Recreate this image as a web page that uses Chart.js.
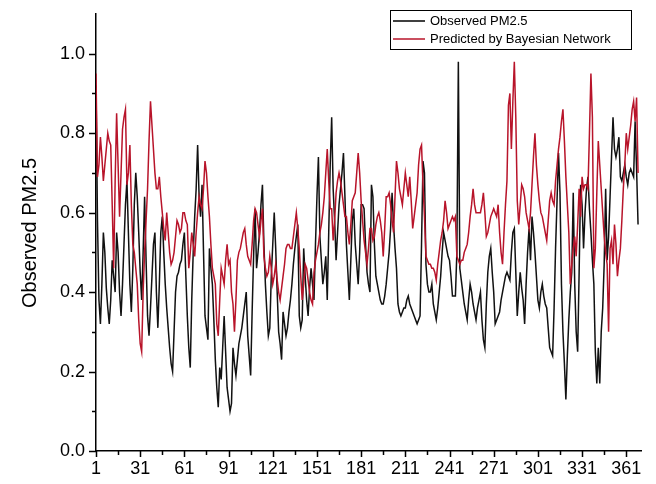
<!DOCTYPE html>
<html>
<head>
<meta charset="utf-8">
<script src="https://cdn.jsdelivr.net/npm/chart.js@4.4.1/dist/chart.umd.min.js"></script>
<style>
  html, body { margin: 0; padding: 0; background: #fff; }
  canvas { display: block; }
</style>
</head>
<body>
<canvas id="c" width="656" height="484"></canvas>
<script>
// Daily normalised PM2.5: observed values and Bayesian-network predictions
const observed = [
  0.92,0.58,0.38,0.32,0.42,0.55,0.50,0.41,0.36,0.32,
  0.38,0.48,0.44,0.40,0.55,0.50,0.40,0.34,0.42,0.52,
  0.62,0.68,0.55,0.42,0.35,0.46,0.62,0.70,0.64,0.55,
  0.45,0.38,0.50,0.64,0.48,0.34,0.29,0.36,0.44,0.52,
  0.55,0.40,0.31,0.42,0.55,0.59,0.50,0.42,0.36,0.31,
  0.26,0.22,0.20,0.30,0.40,0.44,0.45,0.47,0.48,0.52,
  0.55,0.44,0.34,0.26,0.21,0.38,0.50,0.59,0.66,0.77,
  0.64,0.59,0.67,0.50,0.34,0.31,0.28,0.51,0.46,0.42,
  0.33,0.23,0.16,0.11,0.21,0.18,0.26,0.34,0.25,0.16,
  0.13,0.10,0.12,0.26,0.22,0.19,0.23,0.27,0.29,0.31,
  0.34,0.37,0.40,0.29,0.24,0.19,0.35,0.49,0.61,0.46,
  0.50,0.55,0.62,0.67,0.52,0.42,0.35,0.29,0.31,0.44,
  0.52,0.60,0.51,0.40,0.30,0.27,0.23,0.35,0.32,0.29,
  0.31,0.35,0.38,0.42,0.47,0.51,0.54,0.57,0.34,0.31,
  0.33,0.51,0.44,0.38,0.34,0.41,0.46,0.42,0.38,0.52,
  0.64,0.74,0.54,0.48,0.42,0.45,0.49,0.38,0.55,0.72,
  0.84,0.66,0.58,0.48,0.55,0.62,0.66,0.70,0.75,0.64,
  0.52,0.45,0.38,0.48,0.58,0.61,0.52,0.47,0.42,0.50,
  0.62,0.62,0.61,0.52,0.45,0.42,0.40,0.67,0.64,0.52,
  0.44,0.42,0.40,0.38,0.37,0.37,0.39,0.42,0.46,0.50,
  0.56,0.65,0.57,0.51,0.46,0.37,0.35,0.34,0.35,0.36,
  0.36,0.38,0.39,0.37,0.36,0.35,0.34,0.33,0.32,0.33,
  0.34,0.52,0.73,0.70,0.47,0.42,0.40,0.40,0.42,0.37,
  0.35,0.33,0.36,0.40,0.44,0.50,0.55,0.53,0.51,0.49,
  0.48,0.44,0.39,0.39,0.39,0.50,0.98,0.46,0.43,0.40,
  0.37,0.35,0.33,0.38,0.42,0.40,0.37,0.35,0.33,0.36,
  0.38,0.40,0.33,0.28,0.26,0.37,0.45,0.49,0.51,0.45,
  0.40,0.32,0.33,0.34,0.35,0.38,0.40,0.42,0.44,0.45,
  0.44,0.43,0.50,0.55,0.56,0.45,0.34,0.40,0.45,0.41,
  0.38,0.32,0.42,0.50,0.56,0.48,0.59,0.55,0.50,0.44,
  0.38,0.36,0.40,0.42,0.39,0.37,0.36,0.31,0.26,0.25,
  0.24,0.36,0.51,0.63,0.75,0.65,0.42,0.30,0.22,0.13,
  0.24,0.33,0.40,0.45,0.65,0.42,0.30,0.25,0.45,0.67,
  0.62,0.51,0.60,0.66,0.69,0.61,0.55,0.48,0.42,0.25,
  0.17,0.26,0.17,0.30,0.36,0.47,0.66,0.48,0.54,0.64,
  0.74,0.84,0.76,0.74,0.76,0.79,0.69,0.68,0.70,0.72,
  0.69,0.67,0.70,0.71,0.70,0.69,0.83,0.71,0.57
];

const predicted = [
  0.95,0.69,0.72,0.79,0.74,0.68,0.72,0.76,0.80,0.78,
  0.77,0.62,0.46,0.68,0.85,0.72,0.59,0.70,0.81,0.84,
  0.86,0.67,0.70,0.77,0.62,0.52,0.50,0.46,0.42,0.33,
  0.27,0.25,0.40,0.50,0.58,0.66,0.78,0.88,0.82,0.76,
  0.70,0.66,0.66,0.69,0.64,0.60,0.56,0.53,0.60,0.55,
  0.50,0.47,0.48,0.50,0.54,0.58,0.57,0.55,0.56,0.60,
  0.60,0.58,0.57,0.46,0.50,0.55,0.52,0.49,0.55,0.60,
  0.64,0.62,0.61,0.66,0.73,0.70,0.64,0.59,0.52,0.46,
  0.44,0.42,0.32,0.29,0.38,0.46,0.44,0.42,0.48,0.52,
  0.47,0.48,0.40,0.37,0.30,0.38,0.48,0.50,0.51,0.53,
  0.55,0.56,0.52,0.49,0.48,0.47,0.52,0.58,0.61,0.60,
  0.57,0.54,0.58,0.61,0.49,0.46,0.44,0.45,0.49,0.46,
  0.42,0.44,0.47,0.43,0.40,0.38,0.41,0.44,0.47,0.51,
  0.52,0.52,0.51,0.51,0.54,0.57,0.60,0.56,0.51,0.44,
  0.38,0.42,0.47,0.46,0.43,0.40,0.38,0.37,0.45,0.48,
  0.50,0.52,0.55,0.57,0.60,0.64,0.70,0.76,0.68,0.61,
  0.61,0.53,0.58,0.65,0.68,0.70,0.68,0.65,0.62,0.59,
  0.59,0.55,0.52,0.57,0.63,0.64,0.65,0.70,0.75,0.70,
  0.63,0.58,0.53,0.50,0.47,0.51,0.56,0.56,0.53,0.54,
  0.57,0.59,0.60,0.58,0.55,0.49,0.56,0.64,0.64,0.65,
  0.62,0.58,0.55,0.64,0.73,0.70,0.66,0.64,0.62,0.66,
  0.70,0.67,0.64,0.69,0.63,0.56,0.59,0.62,0.65,0.72,
  0.76,0.77,0.67,0.59,0.49,0.48,0.47,0.47,0.46,0.46,
  0.45,0.43,0.47,0.50,0.53,0.55,0.58,0.63,0.60,0.56,
  0.57,0.58,0.59,0.58,0.59,0.49,0.48,0.47,0.48,0.48,
  0.50,0.51,0.52,0.55,0.59,0.62,0.66,0.62,0.60,0.60,
  0.60,0.60,0.62,0.65,0.60,0.54,0.55,0.57,0.59,0.60,
  0.61,0.60,0.59,0.62,0.55,0.50,0.47,0.55,0.62,0.68,
  0.87,0.90,0.76,0.88,0.98,0.84,0.63,0.57,0.62,0.67,
  0.66,0.64,0.60,0.58,0.56,0.60,0.67,0.74,0.80,0.72,
  0.67,0.63,0.60,0.59,0.57,0.55,0.53,0.58,0.63,0.65,
  0.63,0.62,0.68,0.72,0.76,0.79,0.83,0.86,0.78,0.69,
  0.62,0.55,0.42,0.47,0.51,0.54,0.49,0.57,0.66,0.59,
  0.69,0.66,0.67,0.67,0.66,0.80,0.95,0.84,0.46,0.51,
  0.65,0.78,0.72,0.66,0.60,0.54,0.50,0.47,0.30,0.51,
  0.53,0.47,0.57,0.52,0.44,0.48,0.51,0.58,0.66,0.72,
  0.80,0.76,0.79,0.82,0.86,0.88,0.83,0.89,0.70
];

const xTickLabels = [1, 31, 61, 91, 121, 151, 181, 211, 241, 271, 301, 331, 361];
const xMinorTicks = [16, 46, 76, 106, 136, 166, 196, 226, 256, 286, 316, 346];
const yTickLabels = [0.0, 0.2, 0.4, 0.6, 0.8, 1.0];
const yMinorTicks = [0.1, 0.3, 0.5, 0.7, 0.9];
const seriesNames = ['Observed PM2.5', 'Predicted by Bayesian Network'];
const yTitle = 'Observed PM2.5';

const FONT = '"Liberation Sans", Arial, sans-serif';
const RED = '#b8142a';

const toPoints = arr => arr.map((v, i) => ({ x: i + 1, y: v }));

// Tick marks, axis title and framed legend drawn on top of the scales
const decorations = {
  id: 'decorations',
  afterDraw(chart) {
    const ctx = chart.ctx;
    const xs = chart.scales.x, ys = chart.scales.y;
    const area = chart.chartArea;
    ctx.save();
    ctx.strokeStyle = '#000';
    ctx.lineWidth = 1.5;
    ctx.beginPath();
    xTickLabels.forEach(v => {
      const px = Math.round(xs.getPixelForValue(v)) + 0.5;
      ctx.moveTo(px, area.bottom); ctx.lineTo(px, area.bottom + 6);
    });
    xMinorTicks.forEach(v => {
      const px = Math.round(xs.getPixelForValue(v)) + 0.5;
      ctx.moveTo(px, area.bottom); ctx.lineTo(px, area.bottom + 4);
    });
    yTickLabels.forEach(v => {
      const py = Math.round(ys.getPixelForValue(v)) + 0.5;
      ctx.moveTo(area.left, py); ctx.lineTo(area.left - 7, py);
    });
    yMinorTicks.forEach(v => {
      const py = Math.round(ys.getPixelForValue(v)) + 0.5;
      ctx.moveTo(area.left, py); ctx.lineTo(area.left - 4, py);
    });
    ctx.stroke();

    // rotated y-axis title
    ctx.fillStyle = '#000';
    ctx.font = '20px ' + FONT;
    ctx.textAlign = 'center';
    ctx.textBaseline = 'middle';
    ctx.translate(30, 233);
    ctx.rotate(-Math.PI / 2);
    ctx.fillText(yTitle, 0, 0);
    ctx.setTransform(1, 0, 0, 1, 0, 0);

    // legend box
    const bx = 390.5, by = 10.5, bw = 241, bh = 39;
    ctx.fillStyle = '#fff';
    ctx.fillRect(bx, by, bw, bh);
    ctx.lineWidth = 1;
    ctx.strokeStyle = '#000';
    ctx.strokeRect(bx, by, bw, bh);
    const colors = ['#000', RED];
    const rows = [21, 39];
    ctx.font = '13px ' + FONT;
    ctx.textAlign = 'left';
    ctx.textBaseline = 'middle';
    seriesNames.forEach((name, i) => {
      ctx.strokeStyle = colors[i];
      ctx.lineWidth = 1.5;
      ctx.beginPath();
      ctx.moveTo(393, rows[i]);
      ctx.lineTo(425, rows[i]);
      ctx.stroke();
      ctx.fillStyle = '#000';
      ctx.fillText(name, 430, rows[i]);
    });
    ctx.restore();
  }
};

new Chart(document.getElementById('c'), {
  type: 'line',
  data: {
    datasets: [
      {
        label: seriesNames[0],
        data: toPoints(observed),
        borderColor: '#111',
        borderWidth: 1.5,
        pointRadius: 0,
        tension: 0,
        order: 1
      },
      {
        label: seriesNames[1],
        data: toPoints(predicted),
        borderColor: RED,
        borderWidth: 1.5,
        pointRadius: 0,
        tension: 0,
        order: 0
      }
    ]
  },
  options: {
    responsive: false,
    animation: false,
    devicePixelRatio: 1,
    layout: { padding: { left: 0, right: 15, top: 14, bottom: 0 } },
    plugins: {
      legend: { display: false },
      tooltip: { enabled: false }
    },
    scales: {
      x: {
        type: 'linear',
        min: 1,
        max: 371,
        afterFit: s => { s.height = 33; s.paddingLeft = 0; s.paddingRight = 0; },
        afterBuildTicks: s => { s.ticks = xTickLabels.map(v => ({ value: v })); },
        grid: { display: false, drawTicks: false },
        border: { display: true, color: '#000', width: 1.5 },
        ticks: {
          padding: 7,
          maxRotation: 0,
          autoSkip: false,
          color: '#000',
          font: { family: FONT, size: 18 },
          callback: v => String(v)
        }
      },
      y: {
        type: 'linear',
        min: 0,
        max: 1.1,
        afterFit: s => { s.width = 96; s.paddingTop = 0; s.paddingBottom = 0; },
        afterBuildTicks: s => { s.ticks = yTickLabels.map(v => ({ value: v })); },
        grid: { display: false, drawTicks: false },
        border: { display: true, color: '#000', width: 1.5 },
        ticks: {
          padding: 11,
          autoSkip: false,
          color: '#000',
          font: { family: FONT, size: 18 },
          callback: v => v.toFixed(1)
        }
      }
    }
  },
  plugins: [decorations]
});
</script>
</body>
</html>
